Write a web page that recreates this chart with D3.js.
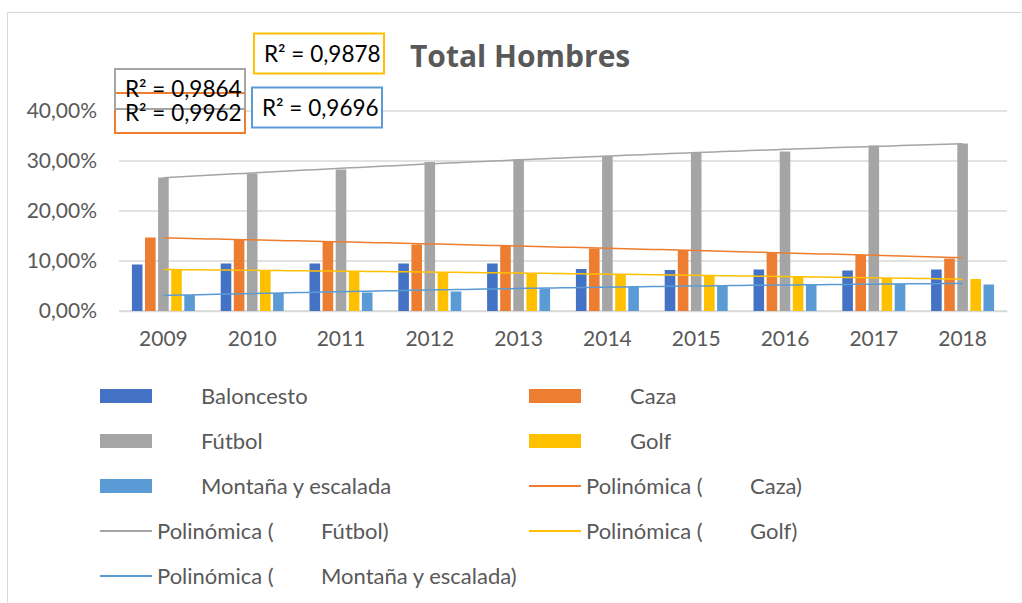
<!DOCTYPE html>
<head>
  <meta charset="utf-8">
  <script src="https://d3js.org/d3.v7.min.js"></script>
  <style>
    body { margin:0; background:#fff; }
    text { font-family: Lato, "Noto Sans", sans-serif; }
  </style>
</head>
<body>
<div id="chart"></div>
<script>
  var width = 1022, height = 603;

  // data (shares, 0-1)
  var years = ["2009","2010","2011","2012","2013","2014","2015","2016","2017","2018"];
  var seriesNames = ["Baloncesto","Caza","Fútbol","Golf","Montaña y escalada"];
  var baloncesto = [0.093,0.095,0.095,0.095,0.095,0.084,0.082,0.083,0.081,0.083];
  var caza       = [0.147,0.142,0.138,0.133,0.130,0.125,0.122,0.117,0.112,0.105];
  var futbol     = [0.267,0.275,0.283,0.298,0.303,0.310,0.317,0.319,0.331,0.335];
  var golf       = [0.083,0.081,0.080,0.078,0.076,0.074,0.071,0.069,0.066,0.064];
  var montana    = [0.032,0.036,0.037,0.039,0.045,0.049,0.051,0.053,0.055,0.053];
  var colors = ["#4472C4","#ED7D31","#A5A5A5","#FFC000","#5B9BD5"];
  var yTicks = [0,0.1,0.2,0.3,0.4];
  // trendlines (polynomial, order 2) on these series, with their R² labels
  var trendSeries = [1,2,3,4];
  var r2Labels = ["R² = 0,9962","R² = 0,9864","R² = 0,9878","R² = 0,9696"];

  var values = [baloncesto,caza,futbol,golf,montana];

  var svg = d3.select("#chart").append("svg")
    .attr("width",width).attr("height",height);

  // chart area border
  svg.append("rect")
    .attr("x",7.5).attr("y",12.5).attr("width",width).attr("height",height)
    .attr("fill","#fff").attr("stroke","#d9d9d9").attr("stroke-width",1);

  var x = d3.scaleBand().domain(years).range([119,1007]);
  var y = d3.scaleLinear().domain([0,0.4]).range([311,111]);
  var slot = 13.1, barW = 10.6;

  // gridlines
  svg.append("g").selectAll("line").data(yTicks).enter().append("line")
    .attr("x1",x.range()[0]).attr("x2",x.range()[1])
    .attr("y1",function(d){return y(d);}).attr("y2",function(d){return y(d);})
    .attr("stroke","#d9d9d9").attr("stroke-width",1.3);

  // y axis labels
  var yAxis = d3.axisLeft(y).tickValues(yTicks).tickSize(0).tickPadding(22)
    .tickFormat(function(d){return d3.format(".2f")(d*100).replace(".",",")+"%";});
  var gy = svg.append("g").attr("transform","translate(119,0)").call(yAxis);
  gy.select(".domain").remove();
  gy.selectAll("text").attr("fill","#595959").style("font-size","21px")
    .style("font-family","Lato");

  // x axis
  var xAxis = d3.axisBottom(x).tickSize(0).tickPadding(20);
  var gx = svg.append("g").attr("transform","translate(0,311)").call(xAxis);
  gx.select(".domain").attr("stroke","#d9d9d9").attr("stroke-width",1.3);
  gx.selectAll("text").attr("fill","#595959").style("font-size","21px")
    .style("font-family","Lato");

  // bars
  values.forEach(function(vals,s){
    svg.append("g").selectAll("rect").data(vals).enter().append("rect")
      .attr("x",function(d,i){return x(years[i])+x.bandwidth()/2+(s-2)*slot-barW/2;})
      .attr("y",function(d){return y(d);})
      .attr("width",barW)
      .attr("height",function(d){return y(0)-y(d);})
      .attr("fill",colors[s]);
  });

  // quadratic least squares fit
  function polyFit(vals){
    var S=[0,0,0,0,0], T=[0,0,0];
    vals.forEach(function(v,i){
      var t=i+1;
      for(var k=0;k<5;k++) S[k]+=Math.pow(t,k);
      for(var k=0;k<3;k++) T[k]+=v*Math.pow(t,k);
    });
    var A=[[S[0],S[1],S[2],T[0]],[S[1],S[2],S[3],T[1]],[S[2],S[3],S[4],T[2]]];
    for(var c=0;c<3;c++){
      for(var r=c+1;r<3;r++){
        var f=A[r][c]/A[c][c];
        for(var k=c;k<4;k++) A[r][k]-=f*A[c][k];
      }
    }
    var b=[0,0,0];
    for(var r=2;r>=0;r--){
      var s=A[r][3];
      for(var k=r+1;k<3;k++) s-=A[r][k]*b[k];
      b[r]=s/A[r][r];
    }
    return function(t){return b[0]+b[1]*t+b[2]*t*t;};
  }

  var tx = d3.scaleLinear().domain([1,years.length])
    .range([x(years[0])+x.bandwidth()/2, x(years[years.length-1])+x.bandwidth()/2]);
  var line = d3.line().x(function(d){return tx(d[0]);}).y(function(d){return y(d[1]);});
  trendSeries.forEach(function(s){
    var f = polyFit(values[s]);
    var pts = d3.range(1,years.length+0.001,0.1).map(function(t){return [t,f(t)];});
    svg.append("path").attr("d",line(pts)).attr("fill","none")
      .attr("stroke",colors[s]).attr("stroke-width",1.5);
  });

  // R² label boxes
  var boxes = [
    {s:1, x:115, y:93},
    {s:2, x:115, y:69},
    {s:3, x:254, y:33.5},
    {s:4, x:252, y:87.5}
  ];
  var bw = 130, bh = 40;
  boxes.forEach(function(b){
    svg.append("rect").attr("x",b.x).attr("y",b.y).attr("width",bw).attr("height",bh)
      .attr("fill","#fff");
  });
  boxes.forEach(function(b){
    svg.append("rect").attr("x",b.x).attr("y",b.y).attr("width",bw).attr("height",bh)
      .attr("fill","none").attr("stroke",colors[b.s]).attr("stroke-width",2);
  });
  boxes.forEach(function(b,i){
    svg.append("text").attr("x",b.x+10).attr("y",b.y+bh/2+8)
      .attr("fill","#000").style("font-size","22.5px")
      .text(r2Labels[trendSeries.indexOf(b.s)]);
  });

  // title
  svg.append("text").attr("x",410).attr("y",67)
    .attr("fill","#595959").style("font-size","30px").style("font-weight","bold")
    .style("font-family","'Open Sans'")
    .text("Total Hombres");

  // legend
  var legendItems = [];
  seriesNames.forEach(function(n,i){legendItems.push({type:"bar",s:i,name:n});});
  trendSeries.forEach(function(s){legendItems.push({type:"line",s:s,name:seriesNames[s]});});
  var colX = [100,529], rowY0 = 396, rowH = 45;
  legendItems.forEach(function(d,i){
    var cx = colX[i%2], cy = rowY0 + Math.floor(i/2)*rowH;
    var g = svg.append("g");
    if(d.type=="bar"){
      g.append("rect").attr("x",cx).attr("y",cy-7).attr("width",52).attr("height",14)
        .attr("fill",colors[d.s]);
      g.append("text").attr("x",cx+101).attr("y",cy).attr("dy","0.35em")
        .attr("fill","#595959").style("font-size","22px").text(d.name);
    } else {
      g.append("line").attr("x1",cx).attr("x2",cx+52).attr("y1",cy).attr("y2",cy)
        .attr("stroke",colors[d.s]).attr("stroke-width",2);
      g.append("text").attr("x",cx+57).attr("y",cy).attr("dy","0.35em")
        .attr("fill","#595959").style("font-size","22px").text("Polinómica (");
      g.append("text").attr("x",cx+221).attr("y",cy).attr("dy","0.35em")
        .attr("fill","#595959").style("font-size","22px").text(d.name+")");
    }
  });
</script>
</body>
